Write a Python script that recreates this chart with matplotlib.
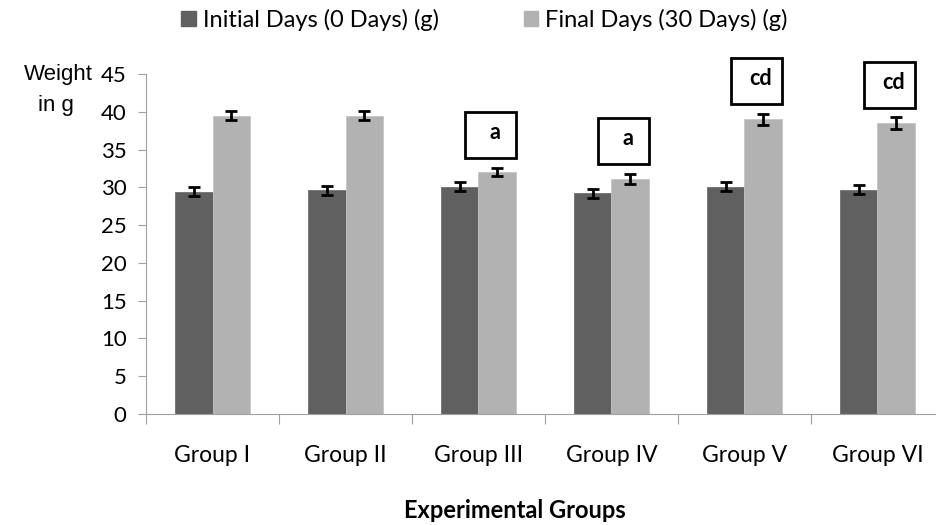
import matplotlib.pyplot as plt
import numpy as np
from matplotlib.patches import Rectangle, Patch

# Datos
groups = ['Group I', 'Group II', 'Group III', 'Group IV', 'Group V', 'Group VI']
initial = [29.4, 29.6, 30.1, 29.2, 30.1, 29.7]
final = [39.5, 39.5, 32.0, 31.1, 39.0, 38.5]
initial_err = [0.6, 0.55, 0.6, 0.55, 0.6, 0.6]
final_err = [0.6, 0.55, 0.55, 0.7, 0.75, 0.75]
# letras de significancia (índice de grupo, texto)
sig_labels = [(2, 'a'), (3, 'a'), (4, 'cd'), (5, 'cd')]

dark = '#606060'
light = '#b2b2b2'
axis_gray = '#a0a0a0'
tick_font = 'Lato'

fig = plt.figure(figsize=(9.37, 5.25), dpi=100)
ax = fig.add_axes([146 / 937, 111 / 525, 798 / 937, 340 / 525])

x = np.arange(len(groups))
w = 0.28
ax.bar(x - w / 2, initial, w, color=dark, edgecolor='#707070', linewidth=0.6)
ax.bar(x + w / 2, final, w, color=light, edgecolor='#c4c4c4', linewidth=0.6)
ax.errorbar(x - w / 2, initial, yerr=initial_err, fmt='none', ecolor='black',
            elinewidth=2, capsize=4, capthick=2)
ax.errorbar(x + w / 2, final, yerr=final_err, fmt='none', ecolor='black',
            elinewidth=2, capsize=4, capthick=2)

# Cajas con letras sobre las barras finales
bw, bh = 0.38, 6.1
for i, txt in sig_labels:
    cx = i + w / 2 - 0.05
    y0 = final[i] + final_err[i] + 1.3
    ax.add_patch(Rectangle((cx - bw / 2, y0), bw, bh, facecolor='white',
                           edgecolor='black', linewidth=2, zorder=5, clip_on=False))
    ax.text(cx + 0.03, y0 + bh * 0.55, txt, ha='center', va='center',
            fontsize=15.5, fontweight='bold', family=tick_font, zorder=6, clip_on=False)

ax.set_xlim(-0.5, 5.5)
ax.set_ylim(0, 45)
ax.set_yticks(np.arange(0, 46, 5))
ax.set_xticks(np.arange(-0.5, 6.0, 1.0))
ax.set_xticklabels([])
ax.set_xticks(x, minor=True)
ax.set_xticklabels(groups, minor=True, fontsize=16.5, family=tick_font)
ax.tick_params(axis='x', which='major', direction='out', length=7, color=axis_gray)
ax.tick_params(axis='x', which='minor', length=0, pad=22)
ax.tick_params(axis='y', direction='out', length=6, color=axis_gray, pad=8)
for lab in ax.get_yticklabels():
    lab.set_fontsize(16)
    lab.set_family(tick_font)

for s in ['top', 'right']:
    ax.spines[s].set_visible(False)
ax.spines['left'].set_color(axis_gray)
ax.spines['bottom'].set_color(axis_gray)

fig.text(58 / 937, 1 - 75 / 525, 'Weight', ha='center', va='center',
         fontsize=16, family='Liberation Sans')
fig.text(56 / 937, 1 - 106 / 525, 'in g', ha='center', va='center',
         fontsize=16, family='Liberation Sans')
fig.text(0.55, 1 - 510 / 525, 'Experimental Groups', ha='center', va='center',
         fontsize=17, fontweight='bold', family=tick_font)

handles = [Patch(color=dark), Patch(color=light)]
fig.legend(handles, ['Initial Days (0 Days) (g)', 'Final Days (30 Days) (g)'],
           loc='center', bbox_to_anchor=(0.517, 1 - 20 / 525), ncol=2,
           frameon=False, prop={'family': tick_font, 'size': 17},
           handlelength=0.6, handleheight=0.6, handletextpad=0.3,
           columnspacing=3.6)

fig.savefig('out.png', dpi=100)
